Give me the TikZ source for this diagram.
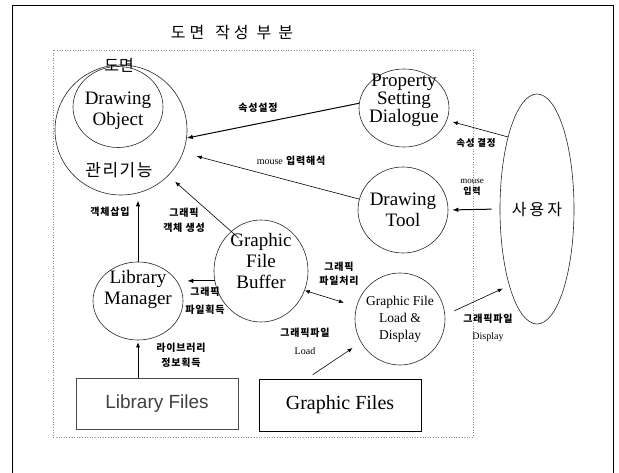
\documentclass[tikz,border=0pt]{standalone}
\usepackage{fontspec}
\setmainfont{Liberation Serif}
\newfontfamily\kr{Noto Sans CJK KR}
\newfontfamily\krs[LetterSpace=8]{Noto Sans CJK KR}
\newfontfamily\arialf{Liberation Sans}
\usetikzlibrary{arrows.meta,shapes.geometric}
\begin{document}
\begin{tikzpicture}[x=1pt,y=-1pt,
  circ/.style={draw=black!85, ellipse, line width=0.6pt, inner sep=0pt},
  fl/.style={-{Latex[length=5pt,width=4pt]}, line width=0.6pt},
  fb/.style={-{Latex[length=6pt,width=4.5pt]}, line width=1pt},
  bigtxt/.style={font=\fontsize{19}{21}\selectfont, align=center, inner sep=0pt},
  midtxt/.style={font=\fontsize{13.5}{17}\selectfont, align=center, inner sep=0pt},
  klab/.style={font=\krs\bfseries\fontsize{10}{14}\selectfont, align=center, inner sep=0pt},
  kbig/.style={font=\kr\fontsize{17}{20}\selectfont, inner sep=0pt},
  filebox/.style={draw, rectangle, inner sep=0pt}
]
\useasboundingbox (0,0) rectangle (619,473);
% frame and dotted region
\draw[line width=0.9pt] (12,473) -- (12,5) -- (613,5) -- (613,473);
\draw[black!45, dotted, line width=0.6pt] (53,50) rectangle (473,437);
\node[kbig, font=\kr\fontsize{16}{18}\selectfont] (title) at (232,33) {도\hspace{4pt}면\hspace{11pt}작\hspace{4pt}성\hspace{8pt}부\hspace{7pt}분};

% circles
\node[circ, minimum width=132pt, minimum height=130pt] (mgr) at (121,130) {};
\node[circ, minimum width=90pt, minimum height=81pt] (dobj) at (118,107) {};
\node[circ, minimum width=90pt, minimum height=78pt] (prop) at (404,108) {};
\node[circ, minimum width=90pt, minimum height=86pt] (tool) at (403,210) {};
\node[circ, minimum width=74pt, minimum height=230pt] (user) at (537,209) {};
\node[circ, minimum width=94pt, minimum height=102pt] (buf) at (261,271) {};
\node[circ, minimum width=90pt, minimum height=78pt] (lib) at (138,301) {};
\node[circ, minimum width=90pt, minimum height=92pt] (load) at (400,319) {};
\node[filebox, draw=black!70, line width=0.6pt, minimum width=162pt, minimum height=51pt] (libf) at (157,403.5) {};
\node[filebox, line width=1pt, minimum width=162pt, minimum height=52pt] (gfiles) at (340,405) {};

% texts in shapes
\node[kbig, font=\kr\fontsize{16}{18}\selectfont] (dmlab) at (119,65) {도면};
\node[bigtxt] (dobjT) at (118,111) {Drawing\\Object};
\node[kbig] (mgrT) at (119,170) {관\hspace{1.5pt}리\hspace{1.5pt}기\hspace{1.5pt}능};
\node[bigtxt, font=\fontsize{19}{18}\selectfont] (propT) at (404,100) {Property\\Setting\\Dialogue};
\node[bigtxt] (toolT) at (403,210) {Drawing\\Tool};
\node[kbig, font=\kr\fontsize{16}{18}\selectfont] (userT) at (537,210) {사\hspace{3pt}용\hspace{3pt}자};
\node[bigtxt] (bufT) at (261,261) {Graphic\\File\\Buffer};
\node[bigtxt] (libT) at (138,289) {Library\\Manager};
\node[midtxt] (loadT) at (400,319) {Graphic File\\Load \&\\Display};
\node[inner sep=0pt, font=\arialf\fontsize{19}{21}\selectfont, text=black!75] (libfT) at (157,404) {Library Files};
\node[inner sep=0pt, font=\fontsize{20}{22}\selectfont] (gfilesT) at (340,405) {Graphic Files};

% connectors
\draw[fb] (prop.174) -- (mgr.-7);
\draw[fl, shorten >=14pt] (tool.166) -- (mgr.-20);
\draw[fl, shorten >=6pt] (user.112) -- (prop.-16);
\draw[fb, shorten <=8pt, shorten >=4pt] (user.west) -- (tool.east);
\draw[fl, shorten >=9pt, shorten <=-10pt] (buf.127) -- (mgr.-44);
\draw[fb, shorten >=5pt] (lib.north) -- (lib.north |- mgr.south);
\draw[fb, shorten >=4pt] (buf.192) -- (buf.192 -| lib.east);
\draw[fl, shorten >=2pt] (libf.north -| lib.south) -- (lib.south);
\draw[{Latex[length=5pt,width=4pt]}-{Latex[length=5pt,width=4pt]}, line width=0.6pt, shorten >=13pt] (buf.-24) -- (load.164);
\draw[fl, shorten <=7pt, shorten >=10pt] ([xshift=-33pt]gfiles.north) -- (load.211);
\draw[fl, shorten <=10pt, shorten >=7pt] (load.5) -- (user.250);

% labels
\node[klab] (l1) at (258,108) {속성설정};
\node[klab] (l2) at (291,161) {{\rmfamily\mdseries\fontsize{10}{10}\selectfont mouse} 입력해석};
\node[klab, font=\krs\bfseries\fontsize{9.5}{10}\selectfont] (l3) at (476,143) {속성 결정};
\node[klab, font=\krs\bfseries\fontsize{9}{11}\selectfont] (l4) at (472,187) {{\rmfamily\mdseries\fontsize{9}{11}\selectfont mouse}\\입력};
\node[klab, font=\krs\bfseries\fontsize{10}{15}\selectfont] (l5) at (184,220) {그래픽\\객체 생성};
\node[klab] (l6) at (110,212) {객체삽입};
\node[klab, font=\krs\bfseries\fontsize{10}{18}\selectfont] (l7) at (205,301) {그래픽\\파일획득};
\node[klab, font=\krs\bfseries\fontsize{10}{15}\selectfont] (l8) at (181,355) {라이브러리\\정보획득};
\node[klab] (l9) at (339,274) {그래픽\\파일처리};
\node[klab, font=\krs\bfseries\fontsize{10}{18}\selectfont] (l10) at (305,341) {그래픽파일\\{\rmfamily\mdseries\fontsize{10}{12}\selectfont Load}};
\node[klab, font=\krs\bfseries\fontsize{10}{17}\selectfont] (l11) at (488,328) {그래픽파일\\{\rmfamily\mdseries\fontsize{10}{12}\selectfont Display}};
\end{tikzpicture}
\end{document}
